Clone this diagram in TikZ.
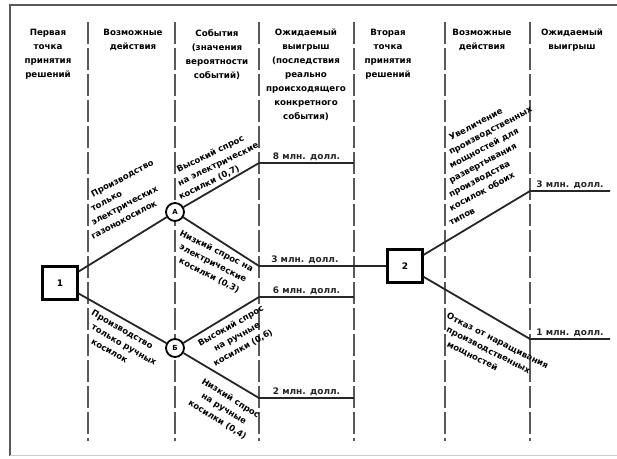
\documentclass[tikz,border=0pt]{standalone}
\usepackage{fontspec}
\setmainfont{DejaVu Sans}
\newcommand{\indl}[1]{\hspace*{#1pt}}
\begin{document}
\begin{tikzpicture}[x=1pt, y=-1pt,
    hdr/.style={font=\bfseries\fontsize{8.7}{14}\selectfont, align=center, anchor=north, inner sep=0pt},
    lbl/.style={font=\bfseries\fontsize{8.5}{12.5}\selectfont, align=left, inner sep=0pt},
    lblc/.style={font=\bfseries\fontsize{8.5}{12.5}\selectfont, align=center, inner sep=0pt},
    pay/.style={font=\bfseries\fontsize{9}{10}\selectfont, above=1pt, inner sep=0pt},
    decision/.style={draw, fill=white, line width=2.2pt, minimum width=35pt, minimum height=33pt, font=\bfseries\fontsize{9}{10}\selectfont},
    chance/.style={draw, fill=white, circle, line width=1.8pt, minimum size=18pt, inner sep=0pt, font=\bfseries\fontsize{7}{8}\selectfont},
    branch/.style={line width=1.8pt, black!85},
    sep/.style={line width=1.2pt, dash pattern=on 22pt off 4pt, black!65}
  ]
    \useasboundingbox (0,0) rectangle (617,458);

    % Cornice e colonne
    \draw[line width=1.5pt, black!65] (10,456) -- (10,5) -- (617,5);
    \draw[line width=0.8pt, black!20] (10,455) -- (617,455);
    \foreach \x in {88,175,259,354,445,530}
        \draw[sep] (\x,22) -- (\x,441);

    % Intestazioni
    \node[hdr] (h1) at (48,29) {Первая\\точка\\принятия\\решений};
    \node[hdr] (h2) at (133,29) {Возможные\\действия};
    \node[hdr] (h3) at (217,29) {События\\(значения\\вероятности\\событий)};
    \node[hdr] (h4) at (306,29) {Ожидаемый\\выигрыш\\(последствия\\реально\\происходящего\\конкретного\\события)};
    \node[hdr] (h5) at (388,29) {Вторая\\точка\\принятия\\решений};
    \node[hdr] (h6) at (482,29) {Возможные\\действия};
    \node[hdr] (h7) at (572,29) {Ожидаемый\\выигрыш};

    % Punti di decisione e di evento
    \node[decision] (d1) at (60,283) {1};
    \node[decision] (d2) at (405,266) {2};
    \node[chance] (A) at (175,212) {А};
    \node[chance] (B) at (175,348) {Б};

    \coordinate (kA1) at (259,163);
    \coordinate (eA1) at (354,163);
    \coordinate (kA2) at (259,266);
    \coordinate (kB1) at (259,297);
    \coordinate (eB1) at (354,297);
    \coordinate (kB2) at (259,398);
    \coordinate (eB2) at (354,398);
    \coordinate (k21) at (530,191);
    \coordinate (e21) at (610,191);
    \coordinate (k22) at (530,339);
    \coordinate (e22) at (610,339);

    % Rami
    \draw[branch] (d1) -- (A);
    \draw[branch] (d1) -- (B);
    \draw[branch] (A) -- (kA1) -- node[pay] (p8) {8 млн. долл.} (eA1);
    \draw[branch] (A) -- (kA2) -- node[pay, pos=0.36] (p3) {3 млн. долл.} (d2);
    \draw[branch] (B) -- (kB1) -- node[pay] (p6) {6 млн. долл.} (eB1);
    \draw[branch] (B) -- (kB2) -- node[pay] (p2) {2 млн. долл.} (eB2);
    \draw[branch] (d2) -- (k21) -- node[pay] (p3b) {3 млн. долл.} (e21);
    \draw[branch] (d2) -- (k22) -- node[pay] (p1) {1 млн. долл.} (e22);

    % Scritte lungo i rami
    \node[lbl, rotate=28, anchor=south west] (t1) at (93,240)
        {\indl{20}Производство\\\indl{13}только\\\indl{7}электрических\\газонокосилок};
    \node[lbl, rotate=26, anchor=south west] (t2) at (181,201)
        {\indl{10}Высокий спрос\\\indl{5}на электрические\\косилки (0,7)};
    \node[lbl, rotate=-27, anchor=north west] (t3) at (182,229)
        {Низкий спрос на\\\indl{6}электрические\\\indl{12}косилки (0,3)};
    \node[lbl, rotate=-30, anchor=north west] (t4) at (94,309)
        {Производство\\\indl{7}только ручных\\\indl{14}косилок};
    \node[lblc, rotate=29] (t5) at (237,337) {Высокий спрос\\на ручные\\косилки (0,6)};
    \node[lblc, rotate=-32] (t6) at (224,409) {Низкий спрос\\на ручные\\косилки (0,4)};
    \node[lbl, rotate=28, anchor=south west] (t7) at (451,226)
        {\indl{40}Увеличение\\\indl{33}производственных\\\indl{27}мощностей для\\\indl{20}развертывания\\\indl{13}производства\\\indl{7}косилок обоих\\типов};
    \node[lbl, rotate=-27, anchor=north west] (t8) at (449,312)
        {Отказ от наращивания\\\indl{6}производственных\\\indl{13}мощностей};
\end{tikzpicture}
\end{document}
